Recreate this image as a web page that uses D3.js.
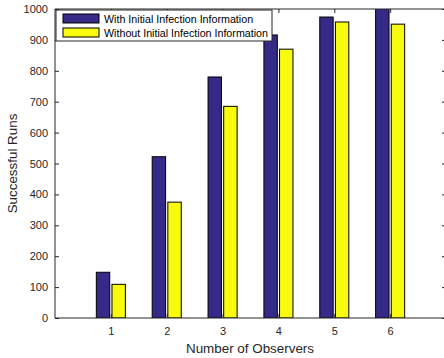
<!DOCTYPE html>
<html>
<head>
<meta charset="utf-8">
<script src="https://cdn.jsdelivr.net/npm/d3@7"></script>
<style>
  body { margin: 0; background: #fff; }
  text { font-family: "Liberation Sans", Arial, sans-serif; }
</style>
</head>
<body>
<div id="chart"></div>
<script>
// data
const observers = [1, 2, 3, 4, 5, 6];
const withInfo = [148, 522, 780, 916, 974, 1005];
const withoutInfo = [109, 375, 685, 870, 958, 951];
const seriesNames = ["With Initial Infection Information", "Without Initial Infection Information"];
const yTicks = [0, 100, 200, 300, 400, 500, 600, 700, 800, 900, 1000];

const width = 444, height = 358;
const margin = {left: 55, top: 9, right: -2, bottom: 40};
const colors = ["#352a87", "#f9fb0e"];

const svg = d3.select("#chart").append("svg")
    .attr("width", width)
    .attr("height", height);

const x = d3.scaleLinear()
    .domain([0, 7])
    .range([margin.left, width - margin.right]);
const y = d3.scaleLinear()
    .domain([0, 1000])
    .range([height - margin.bottom, margin.top]);

svg.append("clipPath").attr("id", "plot-clip")
  .append("rect")
    .attr("x", x(0)).attr("y", y(1000))
    .attr("width", x(7) - x(0)).attr("height", y(0) - y(1000));

const barW = 0.24;
const offsets = [-0.14, 0.14];
const g = svg.append("g").attr("clip-path", "url(#plot-clip)");

[withInfo, withoutInfo].forEach(function(vals, s) {
  g.selectAll(".bar" + s)
    .data(vals)
    .enter().append("rect")
      .attr("class", "bar" + s)
      .attr("x", (d, i) => x(observers[i] + offsets[s] - barW / 2))
      .attr("y", d => y(d))
      .attr("width", x(barW) - x(0))
      .attr("height", d => y(0) - y(d))
      .style("fill", colors[s])
      .style("stroke", "#000")
      .style("stroke-width", 1);
});

// axes, MATLAB style with ticks inward
const axisColor = "#262626";
const tickLen = 4;
const fmt = d3.format("d");

const axLeft = svg.append("g")
    .attr("transform", `translate(${x(0)},0)`)
    .call(d3.axisLeft(y).tickValues(yTicks).tickFormat(fmt).tickSize(-tickLen).tickPadding(7));
const axRight = svg.append("g")
    .attr("transform", `translate(${x(7)},0)`)
    .call(d3.axisRight(y).tickValues(yTicks).tickSize(-tickLen).tickFormat(""));
const axBottom = svg.append("g")
    .attr("transform", `translate(0,${y(0)})`)
    .call(d3.axisBottom(x).tickValues(observers).tickFormat(fmt).tickSize(-tickLen).tickPadding(9));
const axTop = svg.append("g")
    .attr("transform", `translate(0,${y(1000)})`)
    .call(d3.axisTop(x).tickValues(observers).tickSize(-tickLen).tickFormat(""));

[axLeft, axRight, axBottom, axTop].forEach(function(ax) {
  ax.select(".domain").attr("stroke", axisColor);
  ax.selectAll(".tick line").attr("stroke", axisColor);
  ax.selectAll(".tick text")
    .style("font-size", "11px")
    .attr("fill", axisColor);
});
// straight domain lines without end caps
axLeft.select(".domain").attr("d", `M0,${y(0)}V${y(1000)}`);
axRight.select(".domain").attr("d", `M0,${y(0)}V${y(1000)}`);
axBottom.select(".domain").attr("d", `M${x(0)},0H${x(7)}`);
axTop.select(".domain").attr("d", `M${x(0)},0H${x(7)}`);

svg.append("text")
    .attr("x", 250)
    .attr("y", 352.5)
    .attr("text-anchor", "middle")
    .style("font-size", "13.4px")
    .attr("fill", axisColor)
    .text("Number of Observers");

svg.append("text")
    .attr("transform", `translate(17,${(y(0) + y(1000)) / 2}) rotate(-90)`)
    .attr("text-anchor", "middle")
    .style("font-size", "13.4px")
    .attr("fill", axisColor)
    .text("Successful Runs");

// legend
const legend = svg.append("g").attr("transform", "translate(56,10)");
legend.append("rect")
    .attr("width", 216).attr("height", 31)
    .style("fill", "#fff")
    .style("stroke", axisColor)
    .style("stroke-width", 1);
seriesNames.forEach(function(name, i) {
  legend.append("rect")
      .attr("x", 7).attr("y", 4 + i * 14)
      .attr("width", 36).attr("height", 9)
      .style("fill", colors[i])
      .style("stroke", "#000");
  legend.append("text")
      .attr("x", 48).attr("y", 12.5 + i * 14)
      .style("font-size", "10.7px")
      .attr("fill", "#000")
      .text(name);
});
</script>
</body>
</html>
